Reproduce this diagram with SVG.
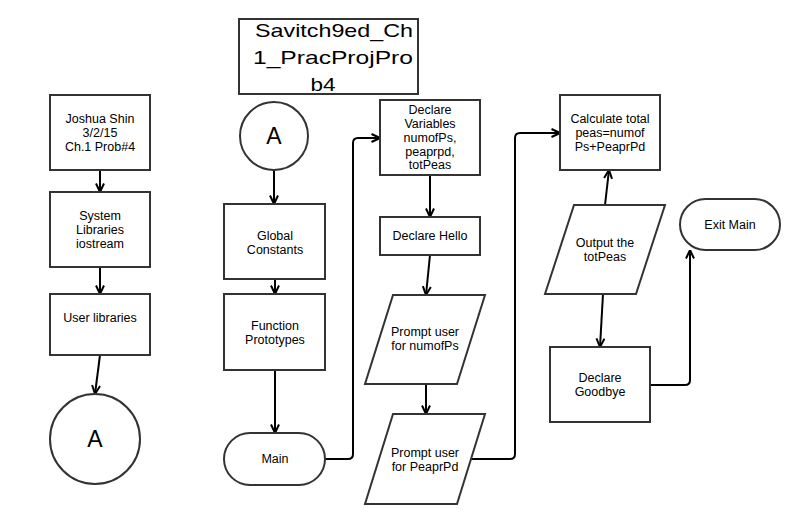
<svg xmlns="http://www.w3.org/2000/svg" width="806" height="524" viewBox="0 0 806 524">
  <style>
    .shape { fill: #ffffff; stroke: #333333; stroke-width: 2; }
    .lbl { font-family: "Liberation Sans", Arial, sans-serif; font-size: 12.5px; fill: #000000; text-anchor: middle; }
    .big { font-family: "Liberation Sans", Arial, sans-serif; font-size: 23px; fill: #000000; text-anchor: middle; }
    .title { font-family: "Liberation Sans", Arial, sans-serif; font-size: 19px; fill: #000000; text-anchor: middle; }
    .conn { fill: none; stroke: #000000; stroke-width: 2; marker-end: url(#arrow); }
  </style>
  <defs>
    <marker id="arrow" viewBox="0 0 10 10" refX="9.5" refY="5" markerWidth="10" markerHeight="10" markerUnits="userSpaceOnUse" orient="auto">
      <path d="M1,1 L9.5,5 L1,9" fill="none" stroke="#000000" stroke-width="2"/>
    </marker>
  </defs>
  <rect width="806" height="524" fill="#ffffff"/>

  <!-- connectors -->
  <g id="connectors">
    <path class="conn" d="M100,170 V192"/>
    <path class="conn" d="M100,267 V294"/>
    <path class="conn" d="M100,355 L95,394"/>
    <path class="conn" d="M274,170 V204"/>
    <path class="conn" d="M275,279 V294"/>
    <path class="conn" d="M275,370 V433"/>
    <path class="conn" d="M325,459 H348 Q353,459 353,454 V143 Q353,138 358,138 H380"/>
    <path class="conn" d="M430,175 V217"/>
    <path class="conn" d="M430,255 L426,295"/>
    <path class="conn" d="M426,384 V414"/>
    <path class="conn" d="M471,459 H510 Q515,459 515,454 V138 Q515,133 520,133 H560"/>
    <path class="conn" d="M605,205 L609,170"/>
    <path class="conn" d="M603,294 L600,347"/>
    <path class="conn" d="M650,385 H685 Q690,385 690,380 V250"/>
  </g>

  <!-- left column -->
  <g id="author">
    <rect class="shape" x="50" y="95" width="100" height="75"/>
    <text class="lbl" x="100" y="123">Joshua Shin</text>
    <text class="lbl" x="100" y="137">3/2/15</text>
    <text class="lbl" x="100" y="151">Ch.1 Prob#4</text>
  </g>
  <g id="system-libraries">
    <rect class="shape" x="50" y="192" width="100" height="75"/>
    <text class="lbl" x="100" y="220">System</text>
    <text class="lbl" x="100" y="234">Libraries</text>
    <text class="lbl" x="100" y="248">iostream</text>
  </g>
  <g id="user-libraries">
    <rect class="shape" x="50" y="294" width="100" height="61"/>
    <text class="lbl" x="100" y="322">User libraries</text>
  </g>
  <g id="connector-a-out">
    <circle class="shape" cx="95" cy="439" r="45"/>
    <text class="big" x="95" y="447">A</text>
  </g>

  <!-- title -->
  <g id="title">
    <rect class="shape" x="239" y="19" width="179" height="75"/>
    <text class="title" x="334" y="37" textLength="158" lengthAdjust="spacingAndGlyphs">Savitch9ed_Ch</text>
    <text class="title" x="333" y="64" textLength="160" lengthAdjust="spacingAndGlyphs">1_PracProjPro</text>
    <text class="title" x="323" y="91" textLength="25" lengthAdjust="spacingAndGlyphs">b4</text>
  </g>

  <!-- second column -->
  <g id="connector-a-in">
    <circle class="shape" cx="274" cy="136" r="34"/>
    <text class="big" x="274" y="144">A</text>
  </g>
  <g id="global-constants">
    <rect class="shape" x="224" y="204" width="101" height="75"/>
    <text class="lbl" x="275" y="240">Global</text>
    <text class="lbl" x="275" y="254">Constants</text>
  </g>
  <g id="function-prototypes">
    <rect class="shape" x="224" y="294" width="101" height="76"/>
    <text class="lbl" x="275" y="330">Function</text>
    <text class="lbl" x="275" y="344">Prototypes</text>
  </g>
  <g id="main">
    <rect class="shape" x="224" y="433" width="101" height="52" rx="26" ry="26"/>
    <text class="lbl" x="275" y="463">Main</text>
  </g>

  <!-- third column -->
  <g id="declare-variables">
    <rect class="shape" x="380" y="100" width="100" height="75"/>
    <text class="lbl" x="430" y="114">Declare</text>
    <text class="lbl" x="430" y="128">Variables</text>
    <text class="lbl" x="430" y="142">numofPs,</text>
    <text class="lbl" x="430" y="156">peaprpd,</text>
    <text class="lbl" x="430" y="169">totPeas</text>
  </g>
  <g id="declare-hello">
    <rect class="shape" x="380" y="217" width="100" height="38"/>
    <text class="lbl" x="430" y="240">Declare Hello</text>
  </g>
  <g id="prompt-numofps">
    <polygon class="shape" points="393,295 485,295 457,384 365,384"/>
    <text class="lbl" x="425" y="336">Prompt user</text>
    <text class="lbl" x="425" y="350">for numofPs</text>
  </g>
  <g id="prompt-peaprpd">
    <polygon class="shape" points="393,414 485,414 457,504 365,504"/>
    <text class="lbl" x="425" y="457">Prompt user</text>
    <text class="lbl" x="425" y="471">for PeaprPd</text>
  </g>

  <!-- fourth column -->
  <g id="calculate-total">
    <rect class="shape" x="560" y="95" width="100" height="75"/>
    <text class="lbl" x="610" y="123">Calculate total</text>
    <text class="lbl" x="610" y="137">peas=numof</text>
    <text class="lbl" x="610" y="151">Ps+PeaprPd</text>
  </g>
  <g id="output-totpeas">
    <polygon class="shape" points="574,205 665,205 636,294 545,294"/>
    <text class="lbl" x="605" y="247">Output the</text>
    <text class="lbl" x="605" y="261">totPeas</text>
  </g>
  <g id="declare-goodbye">
    <rect class="shape" x="550" y="347" width="100" height="75"/>
    <text class="lbl" x="600" y="382">Declare</text>
    <text class="lbl" x="600" y="396">Goodbye</text>
  </g>
  <g id="exit-main">
    <rect class="shape" x="680" y="199" width="100" height="51" rx="25.5" ry="25.5"/>
    <text class="lbl" x="730" y="229">Exit Main</text>
  </g>
</svg>
